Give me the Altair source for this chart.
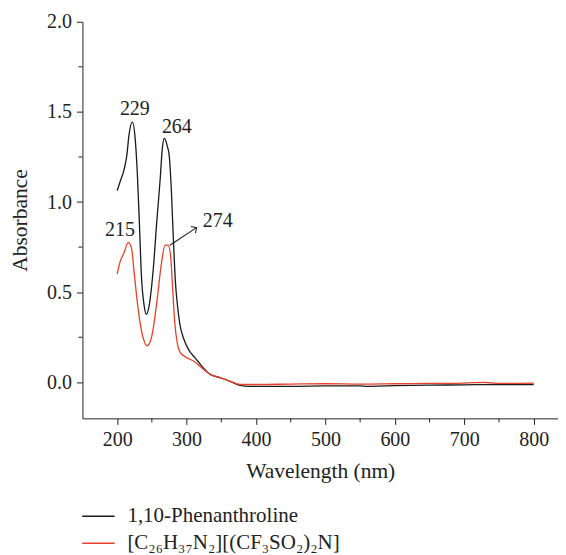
import altair as alt
import pandas as pd

# ---- data ----
phen_wl = [200, 204, 210, 214, 217, 222, 226, 229, 232, 235, 239, 242, 246, 252,
           257, 262, 265, 268, 272, 275, 278, 281, 284, 287, 290, 296, 304, 312,
           322, 334, 348, 362, 377, 390, 450, 500, 550, 560, 600, 650, 700, 750, 800]
phen_abs = [1.063, 1.11, 1.18, 1.26, 1.37, 1.443, 1.35, 1.165, 0.887, 0.59, 0.423,
            0.377, 0.423, 0.627, 0.887, 1.128, 1.295, 1.354, 1.313, 1.258, 1.072,
            0.794, 0.553, 0.424, 0.33, 0.24, 0.174, 0.137, 0.09, 0.044, 0.026, 0.007,
            -0.017, -0.022, -0.022, -0.02, -0.02, -0.022, -0.018, -0.016, -0.014,
            -0.012, -0.012]

il_wl = [200, 204, 210, 216, 221, 224, 228, 233, 238, 243, 250, 257, 264, 269,
         273.5, 277, 280, 283, 286.5, 291, 300, 310, 322, 334, 348, 362, 377, 400,
         450, 500, 550, 600, 650, 700, 730, 750, 800]
il_abs = [0.6, 0.665, 0.72, 0.776, 0.739, 0.628, 0.48, 0.33, 0.24, 0.202, 0.257,
          0.44, 0.665, 0.761, 0.761, 0.702, 0.517, 0.33, 0.22, 0.165, 0.137, 0.118,
          0.08, 0.044, 0.026, 0.007, -0.012, -0.012, -0.01, -0.008, -0.01, -0.008,
          -0.006, -0.004, 0.0, -0.006, -0.004]

series_names = ["1,10-Phenanthroline", "[C\u2082\u2086H\u2083\u2087N\u2082][(CF\u2083SO\u2082)\u2082N]"]
series_colors = ["#1a1a1a", "#e8402a"]

ann_text = ["229", "264", "215", "274"]
ann_x = [225.5, 286, 204, 345]
ann_y = [1.516, 1.417, 0.844, 0.892]

arrow_x = [275.9]
arrow_y = [0.76]
arrow_x2 = [314.4]
arrow_y2 = [0.858]

x_major = [200, 300, 400, 500, 600, 700, 800]
x_minor = [250, 350, 450, 550, 650, 750]
y_major = [0.0, 0.5, 1.0, 1.5, 2.0]
y_minor = [0.25, 0.75, 1.25, 1.75]

FONT = "Liberation Serif"
H = 397
W = 476

df = pd.concat([
    pd.DataFrame({"wl": phen_wl, "abs": phen_abs, "series": series_names[0], "o": range(len(phen_wl))}),
    pd.DataFrame({"wl": il_wl, "abs": il_abs, "series": series_names[1], "o": range(len(il_wl))}),
])
ann = pd.DataFrame({"t": ann_text, "x": ann_x, "y": ann_y})
arr = pd.DataFrame({"x": arrow_x, "y": arrow_y, "x2": arrow_x2, "y2": arrow_y2})
xm = pd.DataFrame({"v": x_minor})
ym = pd.DataFrame({"v": y_minor})

xscale = alt.Scale(domain=[150, 835], nice=False, zero=False)
yscale = alt.Scale(domain=[-0.2, 2.0], nice=False, zero=False)

xaxis = alt.Axis(
    values=x_major, title="Wavelength (nm)", grid=False, labelOverlap=False, labelFlush=False,
    format="d", tickSize=6, labelPadding=5, titlePadding=11,
)
yaxis = alt.Axis(
    values=y_major, title="Absorbance", grid=False, labelOverlap=False, labelFlush=False,
    format=".1f", tickSize=6, labelPadding=5, titlePadding=15,
)

lines = alt.Chart(df).mark_line(strokeWidth=1.3, interpolate="monotone").encode(
    x=alt.X("wl:Q", scale=xscale, axis=xaxis),
    y=alt.Y("abs:Q", scale=yscale, axis=yaxis),
    color=alt.Color(
        "series:N",
        scale=alt.Scale(domain=series_names, range=series_colors),
        legend=alt.Legend(
            title=None, orient="none", legendX=-1, legendY=478, direction="vertical",
            symbolType="stroke", symbolSize=1050, symbolStrokeWidth=1.5,
            labelFont=FONT, labelFontSize=21, labelColor="#222", labelOffset=12,
            labelLimit=500, rowPadding=-4,
        ),
    ),
    order="o:Q",
)

labels = alt.Chart(ann).mark_text(font=FONT, fontSize=20, color="#222", align="center", baseline="middle").encode(
    x=alt.X("x:Q", scale=xscale), y=alt.Y("y:Q", scale=yscale), text="t:N"
)

arrow = alt.Chart(arr).mark_rule(color="#222", strokeWidth=1.1).encode(
    x=alt.X("x:Q", scale=xscale), y=alt.Y("y:Q", scale=yscale), x2="x2:Q", y2="y2:Q"
)
head = alt.Chart(arr).mark_point(
    shape="M-1,1L0,0L1,1", filled=False, color="#222", strokeWidth=1.1, size=64, angle=56.5, opacity=1
).encode(x=alt.X("x2:Q", scale=xscale), y=alt.Y("y2:Q", scale=yscale))

xminor = alt.Chart(xm).mark_rule(color="#222", strokeWidth=1).encode(
    x=alt.X("v:Q", scale=xscale), y=alt.value(H), y2=alt.value(H + 4)
)
yminor = alt.Chart(ym).mark_rule(color="#222", strokeWidth=1).encode(
    y=alt.Y("v:Q", scale=yscale), x=alt.value(0), x2=alt.value(-4)
)

chart = alt.layer(lines, labels, arrow, head, xminor, yminor).properties(
    width=W, height=H,
    padding={"left": 1.5, "top": 3.5, "right": 0, "bottom": 0},
    background="white",
).configure_axis(
    labelFont=FONT, labelFontSize=20, titleFont=FONT, titleFontSize=21.5,
    titleFontWeight="normal", labelColor="#222", titleColor="#222",
    domainColor="#222", tickColor="#222", domainWidth=1, tickWidth=1,
).configure_legend(
    labelFont=FONT, labelFontSize=21,
).configure_view(stroke=None)

chart.save("out.html", embed_options={"renderer": "svg", "actions": False})
